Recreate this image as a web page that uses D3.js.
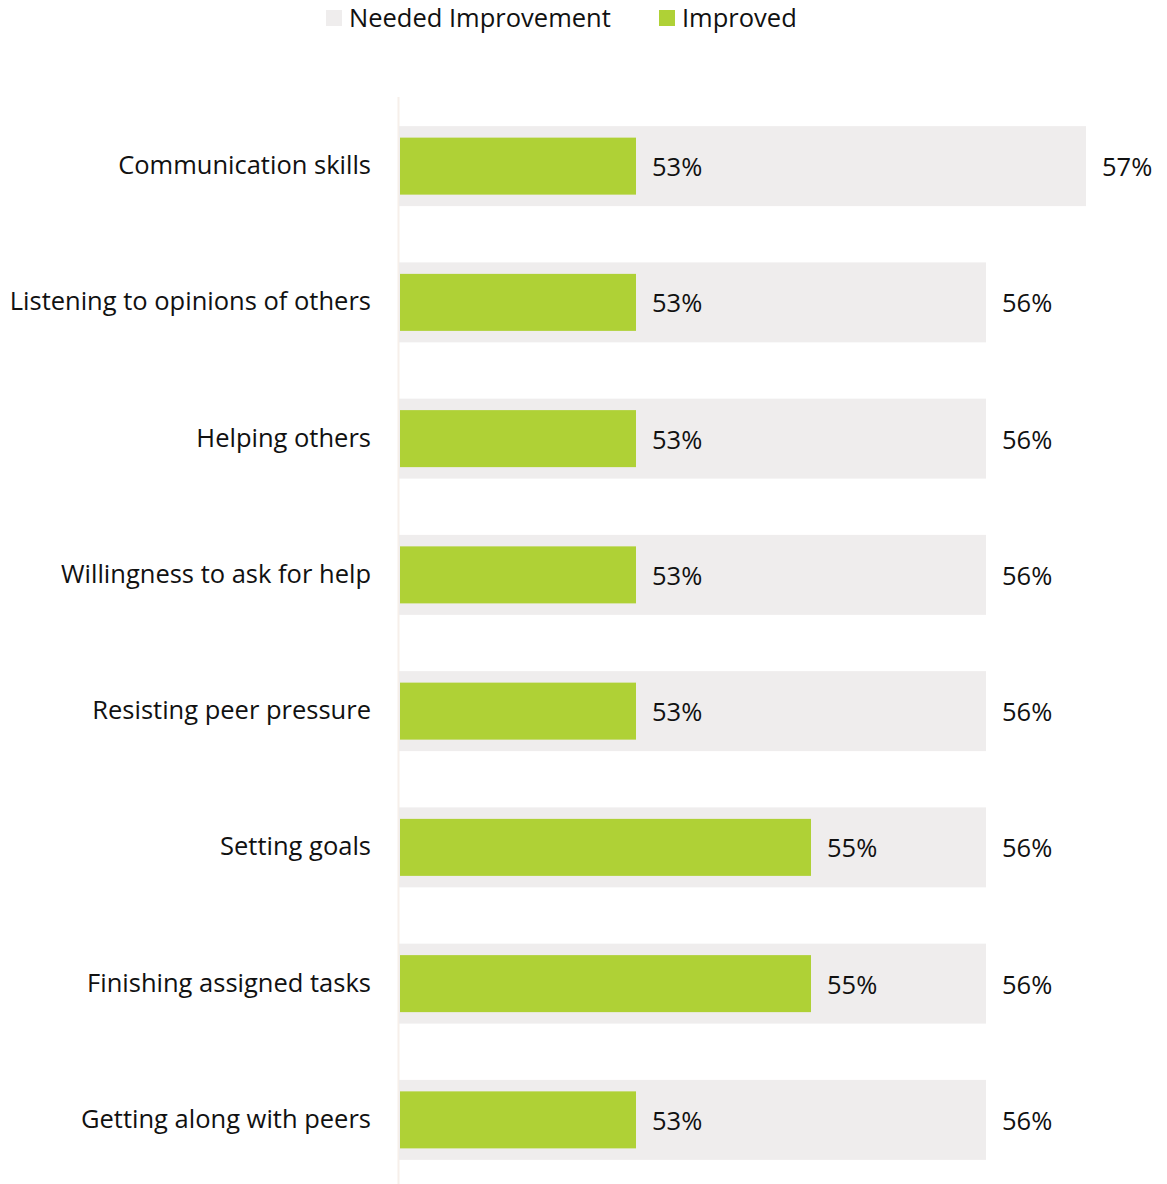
<!DOCTYPE html>
<html>
<head>
<meta charset="utf-8">
<script src="https://cdn.jsdelivr.net/npm/d3@7"></script>
<style>
  body { margin: 0; background: #fff; }
  text { font-family: "Open Sans", sans-serif; fill: #111; }
</style>
</head>
<body>
<div id="chart"></div>
<script>
var svgWidth = 1167;
var svgHeight = 1184;

var categories = ["Communication skills", "Listening to opinions of others", "Helping others",
  "Willingness to ask for help", "Resisting peer pressure", "Setting goals",
  "Finishing assigned tasks", "Getting along with peers"];
// values (labels show the rounded value)
var neededValues = [57.37, 56.37, 56.37, 56.37, 56.37, 56.37, 56.37, 56.37];
var improvedValues = [52.87, 52.87, 52.87, 52.87, 52.87, 54.62, 54.62, 52.87];
var seriesNames = ["Needed Improvement", "Improved"];

var grayColor = "#efeded";
var greenColor = "#afd136";
var fontSize = "25.5px";

var svg = d3.select("#chart").append("svg")
  .attr("width", svgWidth)
  .attr("height", svgHeight);

var xScale = d3.scaleLinear().domain([50.5, 58]).range([399, 1149]);
var yScale = d3.scaleBand().domain(categories).range([98, 1188])
  .paddingInner(0.413).paddingOuter(0.2065);

// axis line
svg.append("line")
  .attr("x1", 398.5).attr("x2", 398.5)
  .attr("y1", 97).attr("y2", svgHeight)
  .attr("stroke", "#f6efea").attr("stroke-width", 2);

var rows = svg.selectAll(".row")
  .data(categories)
  .enter().append("g")
  .attr("class", "row");

rows.append("rect")
  .attr("x", xScale(50.5))
  .attr("y", d => yScale(d))
  .attr("width", (d, i) => xScale(neededValues[i]) - xScale(50.5))
  .attr("height", yScale.bandwidth())
  .attr("fill", grayColor);

var greenH = 57;
rows.append("rect")
  .attr("x", xScale(50.5) + 1)
  .attr("y", d => yScale(d) + (yScale.bandwidth() - greenH) / 2)
  .attr("width", (d, i) => xScale(improvedValues[i]) - xScale(50.5) - 1)
  .attr("height", greenH)
  .attr("fill", greenColor);

rows.append("text")
  .attr("x", (d, i) => xScale(improvedValues[i]) + 16)
  .attr("y", d => yScale(d) + yScale.bandwidth() / 2 + 1)
  .attr("dy", "0.35em")
  .style("font-size", fontSize)
  .text((d, i) => Math.round(improvedValues[i]) + "%");

rows.append("text")
  .attr("x", (d, i) => xScale(neededValues[i]) + 16)
  .attr("y", d => yScale(d) + yScale.bandwidth() / 2 + 1)
  .attr("dy", "0.35em")
  .style("font-size", fontSize)
  .text((d, i) => Math.round(neededValues[i]) + "%");

rows.append("text")
  .attr("x", 371)
  .attr("y", d => yScale(d) + yScale.bandwidth() / 2 - 1)
  .attr("dy", "0.35em")
  .attr("text-anchor", "end")
  .style("font-size", fontSize)
  .text(d => d);

// legend
var legendX = [326, 659];
var legendColors = [grayColor, greenColor];
var legend = svg.selectAll(".legend")
  .data(seriesNames)
  .enter().append("g")
  .attr("class", "legend")
  .attr("transform", (d, i) => `translate(${legendX[i]}, 10)`);

legend.append("rect")
  .attr("width", 16).attr("height", 16)
  .attr("fill", (d, i) => legendColors[i]);

legend.append("text")
  .attr("x", 23).attr("y", 8)
  .attr("dy", "0.35em")
  .style("font-size", fontSize)
  .text(d => d);
</script>
</body>
</html>
